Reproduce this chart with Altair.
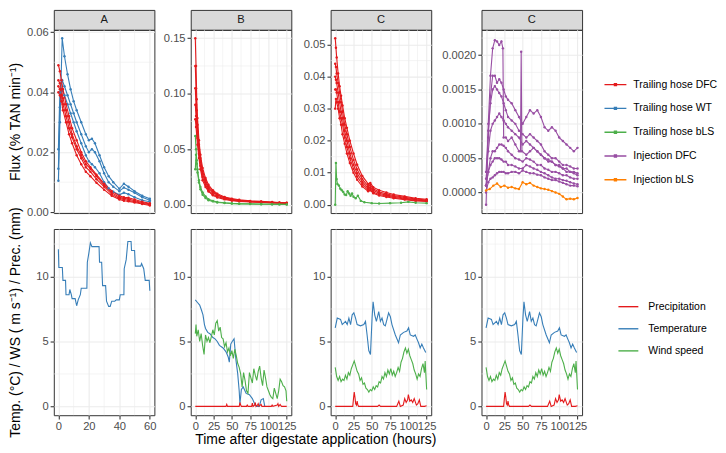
import altair as alt
import pandas as pd

FONT = "Liberation Sans"
RED, BLUE, GREEN, PURPLE, ORANGE = "#E41A1C", "#377EB8", "#4DAF4A", "#984EA3", "#FF7F00"

METHODS = ["Trailing hose DFC", "Trailing hose WT", "Trailing hose bLS", "Injection DFC", "Injection bLS"]
METHOD_COLORS = [RED, BLUE, GREEN, PURPLE, ORANGE]
VARIABLES = ["Precipitation", "Temperature", "Wind speed"]
VAR_COLORS = [RED, BLUE, GREEN]
PANEL_LABELS = ["A", "B", "C", "C"]

Y_TITLE_TOP = "Flux (% TAN min\u207b\u00b9)"
Y_TITLE_BOT = "Temp. (\u00b0C) / WS ( m s\u207b\u00b9) / Prec. (mm)"
X_TITLE = "Time after digestate application (hours)"

# ---------------- axes ----------------
X_A_DOMAIN = [-3, 63]
X_A_MAJOR = [0, 20, 40, 60]
X_A_MINOR = [10, 30, 50]
X_DOMAIN = [-6.25, 131.25]
X_MAJOR = [0, 25, 50, 75, 100, 125]
X_MINOR = [12.5, 37.5, 62.5, 87.5, 112.5]

Y_A_DOMAIN = [-0.0003, 0.0608]
Y_A_MAJOR = [0, 0.02, 0.04, 0.06]
Y_A_MINOR = [0.01, 0.03, 0.05]
Y_B_DOMAIN = [-0.0075, 0.1575]
Y_B_MAJOR = [0, 0.05, 0.10, 0.15]
Y_B_MINOR = [0.025, 0.075, 0.125]
Y_C_DOMAIN = [-0.0026, 0.0546]
Y_C_MAJOR = [0, 0.01, 0.02, 0.03, 0.04, 0.05]
Y_C_MINOR = [0.005, 0.015, 0.025, 0.035, 0.045]
Y_D_DOMAIN = [-0.0003, 0.00237]
Y_D_MAJOR = [0, 0.0005, 0.0010, 0.0015, 0.0020]
Y_D_MINOR = [-0.00025, 0.00025, 0.00075, 0.00125, 0.00175, 0.00225]
Y_W_DOMAIN = [-0.68, 13.66]
Y_W_MAJOR = [0, 5, 10]
Y_W_MINOR = [2.5, 7.5, 12.5]

# ---------------- panel A fluxes ----------------
A_T_DFC = [0, 1, 2, 3, 5, 7, 9, 12, 15, 18, 21, 25, 30, 35, 40, 43, 46, 50, 55, 60]
A_DFC_1 = [0.049, 0.047, 0.044, 0.041, 0.036, 0.032, 0.028, 0.024, 0.020, 0.017, 0.015, 0.0125, 0.0095, 0.007, 0.0055, 0.005, 0.0048, 0.0042, 0.0035, 0.003]
A_DFC_2 = [0.044, 0.043, 0.041, 0.038, 0.034, 0.030, 0.026, 0.022, 0.019, 0.016, 0.0145, 0.012, 0.009, 0.0065, 0.005, 0.0046, 0.0044, 0.0038, 0.0032, 0.0027]
A_DFC_3 = [0.042, 0.041, 0.039, 0.036, 0.032, 0.028, 0.025, 0.021, 0.018, 0.015, 0.0135, 0.011, 0.0085, 0.006, 0.0046, 0.0042, 0.004, 0.0035, 0.003, 0.0025]
A_DFC_4 = [0.040, 0.039, 0.037, 0.034, 0.030, 0.026, 0.023, 0.019, 0.016, 0.0135, 0.012, 0.0098, 0.0075, 0.0055, 0.0042, 0.0038, 0.0036, 0.0032, 0.0027, 0.0022]
A_T_WT = [0, 1, 2.5, 4, 6, 8, 10, 12, 15, 18, 20, 22, 24, 27, 30, 33, 36, 40, 43, 46, 50, 55, 60]
A_WT_1 = [0.0105, 0.030, 0.058, 0.052, 0.046, 0.041, 0.037, 0.034, 0.030, 0.026, 0.024, 0.0245, 0.023, 0.019, 0.015, 0.012, 0.010, 0.0078, 0.0095, 0.0085, 0.007, 0.0055, 0.0045]
A_WT_2 = [0.021, 0.040, 0.044, 0.042, 0.039, 0.036, 0.033, 0.030, 0.026, 0.022, 0.020, 0.021, 0.020, 0.017, 0.013, 0.010, 0.0085, 0.007, 0.0082, 0.0075, 0.0065, 0.005, 0.004]
A_WT_3 = [0.0145, 0.035, 0.041, 0.039, 0.036, 0.033, 0.030, 0.027, 0.023, 0.019, 0.017, 0.016, 0.015, 0.013, 0.010, 0.008, 0.0068, 0.0058, 0.0065, 0.006, 0.005, 0.004, 0.0035]

# ---------------- panel B fluxes ----------------
B_T = [0, 1, 2, 3, 5, 7, 10, 14, 18, 24, 30, 40, 50, 60, 75, 90, 105, 115, 125]
B_DFC_1 = [0.150, 0.125, 0.095, 0.078, 0.058, 0.045, 0.033, 0.024, 0.018, 0.013, 0.010, 0.007, 0.0055, 0.0045, 0.0035, 0.003, 0.0025, 0.002, 0.0018]
B_DFC_2 = [0.125, 0.105, 0.085, 0.072, 0.054, 0.042, 0.030, 0.022, 0.016, 0.012, 0.009, 0.0065, 0.005, 0.004, 0.003, 0.0027, 0.0022, 0.0018, 0.0015]
B_DFC_3 = [0.105, 0.090, 0.077, 0.066, 0.050, 0.039, 0.028, 0.020, 0.015, 0.011, 0.0085, 0.006, 0.0045, 0.0038, 0.003, 0.0025, 0.002, 0.0017, 0.0015]
B_DFC_4 = [0.090, 0.080, 0.070, 0.060, 0.046, 0.035, 0.025, 0.018, 0.013, 0.0095, 0.0075, 0.0055, 0.004, 0.0035, 0.0028, 0.0023, 0.0018, 0.0015, 0.0012]
B_DFC_5 = [0.077, 0.070, 0.062, 0.054, 0.042, 0.032, 0.022, 0.016, 0.012, 0.0085, 0.0065, 0.0048, 0.0037, 0.003, 0.0025, 0.002, 0.0016, 0.0013, 0.001]
B_BLS_1 = [0.062, 0.050, 0.040, 0.032, 0.022, 0.016, 0.011, 0.0075, 0.005, 0.0035, 0.0025, 0.0018, 0.0013, 0.001, 0.0008, 0.0006, 0.0005, 0.0004, 0.0003]
B_BLS_2 = [0.032, 0.045, 0.037, 0.029, 0.020, 0.014, 0.009, 0.006, 0.004, 0.003, 0.002, 0.0015, 0.001, 0.0008, 0.0006, 0.0005, 0.0004, 0.0003, 0.0002]

# ---------------- panel C fluxes ----------------
C_T = [0, 1, 2, 4, 6, 8, 10, 13, 16, 20, 25, 30, 37, 45, 48, 52, 60, 70, 80, 95, 110, 125]
C_DFC_1 = [0.052, 0.049, 0.046, 0.041, 0.037, 0.034, 0.031, 0.027, 0.024, 0.020, 0.016, 0.0125, 0.009, 0.0065, 0.0068, 0.0055, 0.0045, 0.0038, 0.0032, 0.0026, 0.002, 0.0017]
C_DFC_2 = [0.044, 0.043, 0.041, 0.038, 0.035, 0.032, 0.029, 0.025, 0.022, 0.018, 0.014, 0.011, 0.008, 0.0058, 0.0062, 0.005, 0.004, 0.0034, 0.0029, 0.0023, 0.0018, 0.0015]
C_DFC_3 = [0.040, 0.039, 0.038, 0.035, 0.032, 0.029, 0.027, 0.023, 0.020, 0.016, 0.0125, 0.0098, 0.0072, 0.0052, 0.0055, 0.0045, 0.0036, 0.003, 0.0026, 0.002, 0.0016, 0.0013]
C_DFC_4 = [0.036, 0.036, 0.035, 0.032, 0.029, 0.027, 0.025, 0.021, 0.018, 0.0145, 0.0112, 0.0088, 0.0064, 0.0047, 0.005, 0.004, 0.0032, 0.0027, 0.0023, 0.0018, 0.0014, 0.0012]
C_DFC_5 = [0.030, 0.033, 0.032, 0.030, 0.027, 0.025, 0.022, 0.019, 0.016, 0.013, 0.010, 0.0078, 0.0057, 0.0042, 0.0045, 0.0036, 0.0029, 0.0024, 0.002, 0.0016, 0.0012, 0.001]
C_T_BLS = [0, 1, 2, 3, 5, 7, 9, 11, 13, 15, 17, 19, 21, 23, 25, 28, 31, 35, 40, 50, 60, 75, 90, 100, 110, 125]
C_BLS = [0.0, 0.013, 0.008, 0.0065, 0.006, 0.005, 0.0045, 0.004, 0.0032, 0.003, 0.0042, 0.0035, 0.0028, 0.0035, 0.0025, 0.002, 0.0028, 0.0012, 0.0008, 0.0005, 0.0004, 0.0005, 0.0006, 0.0009, 0.0006, 0.0005]

# ---------------- panel D (injection) fluxes ----------------
D_T_1 = [0, 3, 6, 9, 12, 15, 18, 21, 23, 24, 27, 30, 35, 40, 45, 47, 48, 49, 55, 60, 65, 70, 75, 80, 85, 90, 95, 100, 105, 110, 115, 120, 125]
D_DFC_1 = [-0.00018, 0.0010, 0.0017, 0.0021, 0.00222, 0.0022, 0.00215, 0.0022, 0.0021, 0.0008, 0.0008, 0.00075, 0.0008, 0.0007, 0.0006, 0.0006, 0.00205, 0.0006, 0.00055, 0.0006, 0.00065, 0.0006, 0.00055, 0.0005, 0.00045, 0.00045, 0.0004, 0.0004, 0.00035, 0.00035, 0.0003, 0.0003, 0.00028]
D_T = [0, 3, 6, 9, 12, 15, 18, 21, 24, 27, 30, 35, 40, 45, 50, 55, 60, 65, 70, 75, 80, 85, 90, 95, 100, 105, 110, 115, 120, 125]
D_DFC_2 = [0.0001, 0.0008, 0.0014, 0.0017, 0.0017, 0.0016, 0.00165, 0.0016, 0.0015, 0.0014, 0.00135, 0.0013, 0.0012, 0.0011, 0.0010, 0.0011, 0.0012, 0.00115, 0.0012, 0.0011, 0.00095, 0.0009, 0.00095, 0.0009, 0.0008, 0.00075, 0.0007, 0.00065, 0.0006, 0.00065]
D_DFC_3 = [0.0003, 0.0009, 0.0013, 0.0015, 0.00155, 0.0015, 0.00145, 0.0014, 0.0013, 0.0012, 0.0011, 0.00105, 0.001, 0.0009, 0.00085, 0.0008, 0.00085, 0.0008, 0.00075, 0.0007, 0.0006, 0.00055, 0.0005, 0.0005, 0.00045, 0.0004, 0.0004, 0.00038, 0.00035, 0.00035]
D_DFC_4 = [0.0002, 0.0006, 0.0009, 0.001, 0.00105, 0.0011, 0.00115, 0.0011, 0.00105, 0.001, 0.00095, 0.0009, 0.00085, 0.0008, 0.0007, 0.00075, 0.0007, 0.00065, 0.0006, 0.00055, 0.0005, 0.00048, 0.00045, 0.0004, 0.00038, 0.00035, 0.0003, 0.0003, 0.00028, 0.00025]
D_DFC_5 = [0.0001, 0.0003, 0.0005, 0.0006, 0.0006, 0.00065, 0.0007, 0.0007, 0.00068, 0.00065, 0.0006, 0.00055, 0.0005, 0.00048, 0.00045, 0.0005, 0.00048, 0.00045, 0.0004, 0.0004, 0.00035, 0.00033, 0.0003, 0.0003, 0.00028, 0.00025, 0.00025, 0.00022, 0.0002, 0.0002]
D_DFC_6 = [0.0001, 0.0003, 0.0004, 0.00045, 0.0005, 0.0005, 0.0005, 0.00048, 0.00045, 0.00045, 0.0004, 0.0004, 0.00038, 0.00035, 0.00035, 0.0004, 0.00038, 0.00035, 0.00033, 0.0003, 0.00028, 0.00025, 0.00022, 0.0002, 0.0002, 0.00018, 0.00017, 0.00015, 0.00013, 0.00012]
D_DFC_7 = [0.0, 0.00015, 0.0002, 0.00022, 0.00025, 0.00028, 0.0003, 0.0003, 0.0003, 0.00028, 0.00028, 0.0003, 0.0003, 0.00028, 0.00032, 0.0003, 0.00028, 0.00028, 0.00026, 0.00025, 0.00022, 0.0002, 0.00018, 0.00018, 0.00016, 0.00014, 0.00012, 0.0001, 0.0001, 0.00009]
D_T_BLS = [0, 5, 10, 15, 20, 25, 30, 35, 40, 45, 50, 55, 60, 65, 70, 75, 80, 85, 90, 95, 100, 105, 110, 115, 120, 125]
D_BLS = [0.00003, 0.00005, 0.0001, 0.00013, 0.00008, 0.0001, 0.00007, 0.00008, 0.00006, 0.00005, 0.00015, 0.00012, 0.00014, 0.0001, 0.00008, 0.00006, 0.00005, 0.00004, 0.00002, 0.0, -0.00002, -0.00006, -0.0001, -0.00009, -0.0001, -0.00008]

# ---------------- weather ----------------
WA_T_TEMP = [0, 0.3, 2.6, 3, 4.7, 5, 7, 7.5, 8.5, 9, 11, 12, 13, 14.4, 15, 18.7, 19, 20, 21, 22, 26.7, 27, 28.4, 29, 31, 31.6, 33, 34, 35, 37, 38, 40, 40.6, 43, 43.2, 44.5, 45.6, 47.7, 48, 50, 50.5, 54, 54.6, 56, 57, 59.6, 60]
WA_TEMP = [12.1, 10.7, 10.7, 9.7, 9.7, 8.6, 8.6, 9.0, 8.6, 8.3, 8.3, 7.75, 8.2, 8.6, 9.1, 9.1, 11.1, 11.8, 12.6, 12.3, 12.3, 11.1, 11.1, 9.3, 9.3, 8.1, 7.7, 7.7, 8.1, 8.1, 8.2, 8.2, 8.6, 8.6, 10.6, 11.3, 12.7, 12.7, 12.0, 12.0, 10.8, 10.8, 11.0, 10.6, 9.7, 9.7, 8.9]

WB_T_TEMP = [0, 3, 6, 8.5, 10.5, 12.5, 14, 17, 20, 24, 27, 30, 33, 38, 42, 45, 46.5, 48.5, 50.5, 53, 55.5, 58, 60, 61, 63, 65.5, 69.5, 74, 78, 81, 84, 87.5, 90, 93, 95]
WB_TEMP = [8.2, 8.0, 7.8, 7.4, 7.05, 6.3, 6.0, 5.7, 5.6, 5.3, 5.2, 5.0, 4.7, 4.5, 4.2, 3.8, 3.4, 4.8, 5.0, 5.2, 3.6, 2.5, 1.2, 0.2, 1.3, 1.5, 1.0, 0.9, 0.6, 0.2, 0.0, 0.0, 0.5, 0.6, 0.0]
WB_T_WIND = [0, 1, 2, 4, 6, 8, 10, 12, 13, 14, 16, 18, 20, 22, 24, 26, 28, 30, 32, 34, 36, 38, 40, 42, 44, 46, 48, 50, 52, 54, 56, 58, 60, 62, 64, 66, 68, 70, 72, 74, 76, 78, 80, 82, 84, 86, 88, 90, 92, 94, 96, 98, 100, 102, 104, 106, 108, 110, 112, 114, 116, 118, 120, 122, 124, 125]
WB_WIND = [5.6, 6.3, 5.4, 5.9, 5.0, 5.6, 4.7, 4.0, 4.8, 5.5, 5.0, 5.3, 4.9, 5.4, 5.9, 5.5, 6.4, 6.6, 5.8, 6.1, 5.3, 5.2, 4.6, 4.9, 4.2, 4.5, 3.9, 4.3, 3.7, 4.4, 3.9, 3.3, 3.0, 2.5, 1.5, 2.6, 2.0, 1.2, 1.0, 2.6, 2.2, 1.8, 2.9, 2.4, 2.0, 2.7, 3.1, 2.2, 1.6, 2.8, 2.2, 1.5, 1.2, 0.9, 0.7, 0.6, 1.4, 1.0, 0.6, 1.2, 2.1, 1.9, 1.6, 1.5, 1.2, 0.4]
WB_T_PREC = [0, 42, 43, 44, 60, 61, 62, 63, 70, 71, 72, 77, 78, 79, 81, 82, 83, 85, 86, 87, 90, 91, 92, 104, 105, 106, 112, 113, 114, 116, 117, 118, 125]
WB_PREC = [0, 0, 0.15, 0, 0, 0.3, 0.1, 0, 0, 0.1, 0, 0, 0.25, 0, 0.1, 0.3, 0, 0.1, 0.2, 0, 0.15, 0, 0, 0, 0.1, 0, 0.1, 0.2, 0, 0.15, 0.05, 0, 0]

WC_T_TEMP = [0, 2.8, 7.3, 9.6, 14.1, 16.4, 18.7, 21, 23.2, 25.5, 27.8, 30, 34.6, 39.1, 41.4, 43.6, 45.9, 48.2, 50.4, 51.8, 54, 56.3, 59.5, 61.8, 64, 66.3, 68.5, 70.8, 73, 75.4, 77.6, 82.2, 86.6, 89, 93.5, 98, 100.3, 102.6, 107.1, 109.4, 111.6, 113.9, 116.2, 118.4, 120.7, 123.8]
WC_TEMP = [6.05, 6.8, 6.7, 6.3, 6.55, 6.3, 6.8, 6.3, 7.05, 7.2, 6.8, 6.3, 6.2, 6.3, 6.55, 5.5, 4.3, 4.0, 6.8, 8.06, 7.05, 6.55, 7.3, 6.55, 6.8, 6.3, 6.2, 6.7, 7.2, 6.9, 6.3, 5.5, 4.9, 5.5, 5.7, 5.8, 6.05, 5.5, 5.4, 5.5, 5.2, 4.9, 4.5, 4.8, 4.5, 4.15]
WC_T_WIND = [0, 2, 4, 6, 8, 10, 12, 14, 16, 18, 20, 22, 24, 26, 28, 30, 32, 34, 36, 38, 40, 42, 44, 46, 48, 50, 52, 54, 56, 58, 60, 62, 64, 66, 68, 70, 72, 74, 76, 78, 80, 82, 84, 86, 88, 90, 92, 94, 96, 98, 100, 102, 104, 106, 108, 110, 112, 114, 116, 118, 120, 122, 123, 125]
WC_WIND = [3.0, 2.3, 2.0, 2.3, 1.9, 2.1, 2.0, 2.4, 2.1, 2.6, 2.4, 2.9, 3.2, 3.5, 3.1, 2.7, 2.5, 2.0, 2.2, 1.7, 1.8, 1.4, 1.3, 1.1, 1.3, 1.2, 1.5, 1.3, 1.6, 1.5, 1.9, 1.8, 2.3, 2.1, 2.6, 2.3, 2.8, 2.5, 2.9, 2.4, 2.7, 2.3, 2.6, 3.0, 2.7, 3.4, 3.7, 4.2, 4.5, 4.1, 4.4, 3.9, 3.6, 3.3, 2.8, 2.5, 2.1, 2.5, 2.3, 2.9, 3.3, 2.6, 3.5, 1.3]
WC_T_PREC = [0, 22, 24, 25, 26, 27, 28, 29, 30, 31, 32, 58, 60, 62, 84, 87, 89, 93, 95, 97, 99, 100, 102, 104, 106, 108, 111, 113, 115, 117, 122, 125]
WC_PREC = [0, 0, 0, 0.6, 1.1, 0.7, 0.2, 0.1, 0.4, 0.1, 0, 0, 0.1, 0, 0, 0.4, 0, 0.1, 0.6, 0.3, 0.5, 0.9, 0.4, 0.5, 0.3, 0.6, 0.1, 0.2, 0.5, 0, 0, 0.05]

# ---------------- layout constants ----------------
W = 101
H_STRIP = 20
H_TOP = 184
H_GAP = 16
H_BOT = 187
GRID = "#EBEBEB"
LEGEND_TOP_SYMBOL = "M-1,0L1,0M-0.09,-0.09L0.09,-0.09L0.09,0.09L-0.09,0.09Z"


def long_df(series):
    frames = [pd.DataFrame({"t": t, "v": v, "k": k, "sid": sid}) for k, sid, t, v in series]
    return pd.concat(frames, ignore_index=True)


top_legend = alt.Legend(
    title=None, orient="none", legendX=552, legendY=63, padding=0,
    symbolType=LEGEND_TOP_SYMBOL, symbolSize=484, symbolStrokeWidth=1.4,
    labelFontSize=10.5, labelColor="#000000", labelOffset=6, rowPadding=5.9,
)
bottom_legend = alt.Legend(
    title=None, orient="none", legendX=566, legendY=287, padding=0,
    symbolType="stroke", symbolSize=400, symbolStrokeWidth=1.4,
    labelFontSize=10.5, labelColor="#000000", labelOffset=9, rowPadding=5.2,
)


def y_axis(values, fmt, title=None, title_pad=4):
    if title:
        return alt.Axis(values=values, format=fmt, title=title, titlePadding=title_pad, labelOverlap=False)
    return alt.Axis(values=values, format=fmt, title=None, labelOverlap=False)


def make_panel(series, xs, ys, xaxis, yaxis, xmin, ymin, height, color_enc):
    rx = alt.Chart(pd.DataFrame({"g": xmin})).mark_rule(color=GRID, strokeWidth=0.55).encode(
        x=alt.X("g:Q", scale=xs, axis=xaxis))
    ry = alt.Chart(pd.DataFrame({"g": ymin})).mark_rule(color=GRID, strokeWidth=0.55).encode(
        y=alt.Y("g:Q", scale=ys, axis=yaxis))
    return alt.layer(rx, ry, color_enc(xs, ys, xaxis, yaxis)).properties(width=W, height=height)


def top_panel(series, xdom, xmin, ydom, ymaj, ymin, yfmt, ytitle=None):
    xs = alt.Scale(domain=xdom, nice=False, zero=False)
    ys = alt.Scale(domain=ydom, nice=False, zero=False)
    xmaj = X_A_MAJOR if xdom == X_A_DOMAIN else X_MAJOR
    xaxis = alt.Axis(values=xmaj, labels=False, ticks=False, title=None)
    yaxis = y_axis(ymaj, yfmt, ytitle, 4)

    def lines(xs, ys, xaxis, yaxis):
        return alt.Chart(long_df(series)).mark_line(
            strokeWidth=1.1, point=alt.OverlayMarkDef(size=6, filled=True, opacity=1)
        ).encode(
            x=alt.X("t:Q", scale=xs, axis=xaxis),
            y=alt.Y("v:Q", scale=ys, axis=yaxis),
            color=alt.Color("k:N", scale=alt.Scale(domain=METHODS, range=METHOD_COLORS), legend=top_legend),
            detail="sid:N",
        )
    return make_panel(series, xs, ys, xaxis, yaxis, xmin, ymin, H_TOP, lines)


def bottom_panel(series, xdom, xmin, ytitle=None):
    xs = alt.Scale(domain=xdom, nice=False, zero=False)
    ys = alt.Scale(domain=Y_W_DOMAIN, nice=False, zero=False)
    xmaj = X_A_MAJOR if xdom == X_A_DOMAIN else X_MAJOR
    xaxis = alt.Axis(values=xmaj, title=None, labelOverlap=False, labelFlush=False)
    yaxis = y_axis(Y_W_MAJOR, "d", ytitle, 13.3)

    def lines(xs, ys, xaxis, yaxis):
        return alt.Chart(long_df(series)).mark_line(strokeWidth=1.1).encode(
            x=alt.X("t:Q", scale=xs, axis=xaxis),
            y=alt.Y("v:Q", scale=ys, axis=yaxis),
            stroke=alt.Stroke("k:N", scale=alt.Scale(domain=VARIABLES, range=VAR_COLORS), legend=bottom_legend),
            detail="sid:N",
        )
    return make_panel(series, xs, ys, xaxis, yaxis, xmin, Y_W_MINOR, H_BOT, lines)


def strip(label):
    return alt.Chart(pd.DataFrame({"lab": [label]})).mark_text(
        fontSize=11.2, color="#1A1A1A", baseline="middle"
    ).encode(text="lab:N").properties(
        width=W, height=H_STRIP, view=alt.ViewBackground(fill="#D9D9D9", stroke="#333333", strokeWidth=1)
    )


def spacer():
    return alt.Chart(pd.DataFrame({"lab": [""]})).mark_text().encode(text="lab:N").properties(
        width=W, height=H_GAP, view=alt.ViewBackground(fill="transparent", stroke="transparent")
    )


def column(label, top, bottom):
    return alt.vconcat(strip(label), top, spacer(), bottom, spacing=0, bounds="flush")


top_A = top_panel([
    ("Trailing hose WT", "a_wt1", A_T_WT, A_WT_1),
    ("Trailing hose WT", "a_wt2", A_T_WT, A_WT_2),
    ("Trailing hose WT", "a_wt3", A_T_WT, A_WT_3),
    ("Trailing hose DFC", "a_d1", A_T_DFC, A_DFC_1),
    ("Trailing hose DFC", "a_d2", A_T_DFC, A_DFC_2),
    ("Trailing hose DFC", "a_d3", A_T_DFC, A_DFC_3),
    ("Trailing hose DFC", "a_d4", A_T_DFC, A_DFC_4),
], X_A_DOMAIN, X_A_MINOR, Y_A_DOMAIN, Y_A_MAJOR, Y_A_MINOR, ".2f", Y_TITLE_TOP)

top_B = top_panel([
    ("Trailing hose DFC", "b_d1", B_T, B_DFC_1),
    ("Trailing hose DFC", "b_d2", B_T, B_DFC_2),
    ("Trailing hose DFC", "b_d3", B_T, B_DFC_3),
    ("Trailing hose DFC", "b_d4", B_T, B_DFC_4),
    ("Trailing hose DFC", "b_d5", B_T, B_DFC_5),
    ("Trailing hose bLS", "b_b1", B_T, B_BLS_1),
    ("Trailing hose bLS", "b_b2", B_T, B_BLS_2),
], X_DOMAIN, X_MINOR, Y_B_DOMAIN, Y_B_MAJOR, Y_B_MINOR, ".2f")

top_C = top_panel([
    ("Trailing hose DFC", "c_d1", C_T, C_DFC_1),
    ("Trailing hose DFC", "c_d2", C_T, C_DFC_2),
    ("Trailing hose DFC", "c_d3", C_T, C_DFC_3),
    ("Trailing hose DFC", "c_d4", C_T, C_DFC_4),
    ("Trailing hose DFC", "c_d5", C_T, C_DFC_5),
    ("Trailing hose bLS", "c_b1", C_T_BLS, C_BLS),
], X_DOMAIN, X_MINOR, Y_C_DOMAIN, Y_C_MAJOR, Y_C_MINOR, ".2f")

top_D = top_panel([
    ("Injection DFC", "d_d1", D_T_1, D_DFC_1),
    ("Injection DFC", "d_d2", D_T, D_DFC_2),
    ("Injection DFC", "d_d3", D_T, D_DFC_3),
    ("Injection DFC", "d_d4", D_T, D_DFC_4),
    ("Injection DFC", "d_d5", D_T, D_DFC_5),
    ("Injection DFC", "d_d6", D_T, D_DFC_6),
    ("Injection DFC", "d_d7", D_T, D_DFC_7),
    ("Injection bLS", "d_b1", D_T_BLS, D_BLS),
], X_DOMAIN, X_MINOR, Y_D_DOMAIN, Y_D_MAJOR, Y_D_MINOR, ".4f")

bot_A = bottom_panel([
    ("Temperature", "wa_t", WA_T_TEMP, WA_TEMP),
], X_A_DOMAIN, X_A_MINOR, Y_TITLE_BOT)

bot_B = bottom_panel([
    ("Temperature", "wb_t", WB_T_TEMP, WB_TEMP),
    ("Wind speed", "wb_w", WB_T_WIND, WB_WIND),
    ("Precipitation", "wb_p", WB_T_PREC, WB_PREC),
], X_DOMAIN, X_MINOR)

bot_C = bottom_panel([
    ("Temperature", "wc_t", WC_T_TEMP, WC_TEMP),
    ("Wind speed", "wc_w", WC_T_WIND, WC_WIND),
    ("Precipitation", "wc_p", WC_T_PREC, WC_PREC),
], X_DOMAIN, X_MINOR)

bot_D = bottom_panel([
    ("Temperature", "wd_t", WC_T_TEMP, WC_TEMP),
    ("Wind speed", "wd_w", WC_T_WIND, WC_WIND),
    ("Precipitation", "wd_p", WC_T_PREC, WC_PREC),
], X_DOMAIN, X_MINOR)

left_three = alt.hconcat(
    column(PANEL_LABELS[0], top_A, bot_A),
    column(PANEL_LABELS[1], top_B, bot_B),
    column(PANEL_LABELS[2], top_C, bot_C),
    spacing=5.5,
)

chart = alt.hconcat(
    left_three,
    column(PANEL_LABELS[3], top_D, bot_D),
    spacing=3.5,
).properties(
    padding=0,
    title=alt.TitleParams(
        X_TITLE, orient="bottom", anchor="start", dx=188, offset=-5,
        fontSize=14, fontWeight="normal", color="#000000", font=FONT,
    ),
).configure(
    font=FONT,
).configure_view(
    stroke="#333333", strokeWidth=1,
).configure_axis(
    labelFont=FONT, labelFontSize=11.2, labelColor="#4D4D4D", labelPadding=2,
    tickColor="#333333", tickSize=3.7, tickWidth=1.07,
    titleFont=FONT, titleFontSize=14, titleFontWeight="normal", titleColor="#000000",
    gridColor=GRID, gridWidth=1.07, domain=False,
).configure_legend(
    labelFont=FONT,
)

chart.save("out.html", embed_options={"renderer": "svg", "actions": False})
